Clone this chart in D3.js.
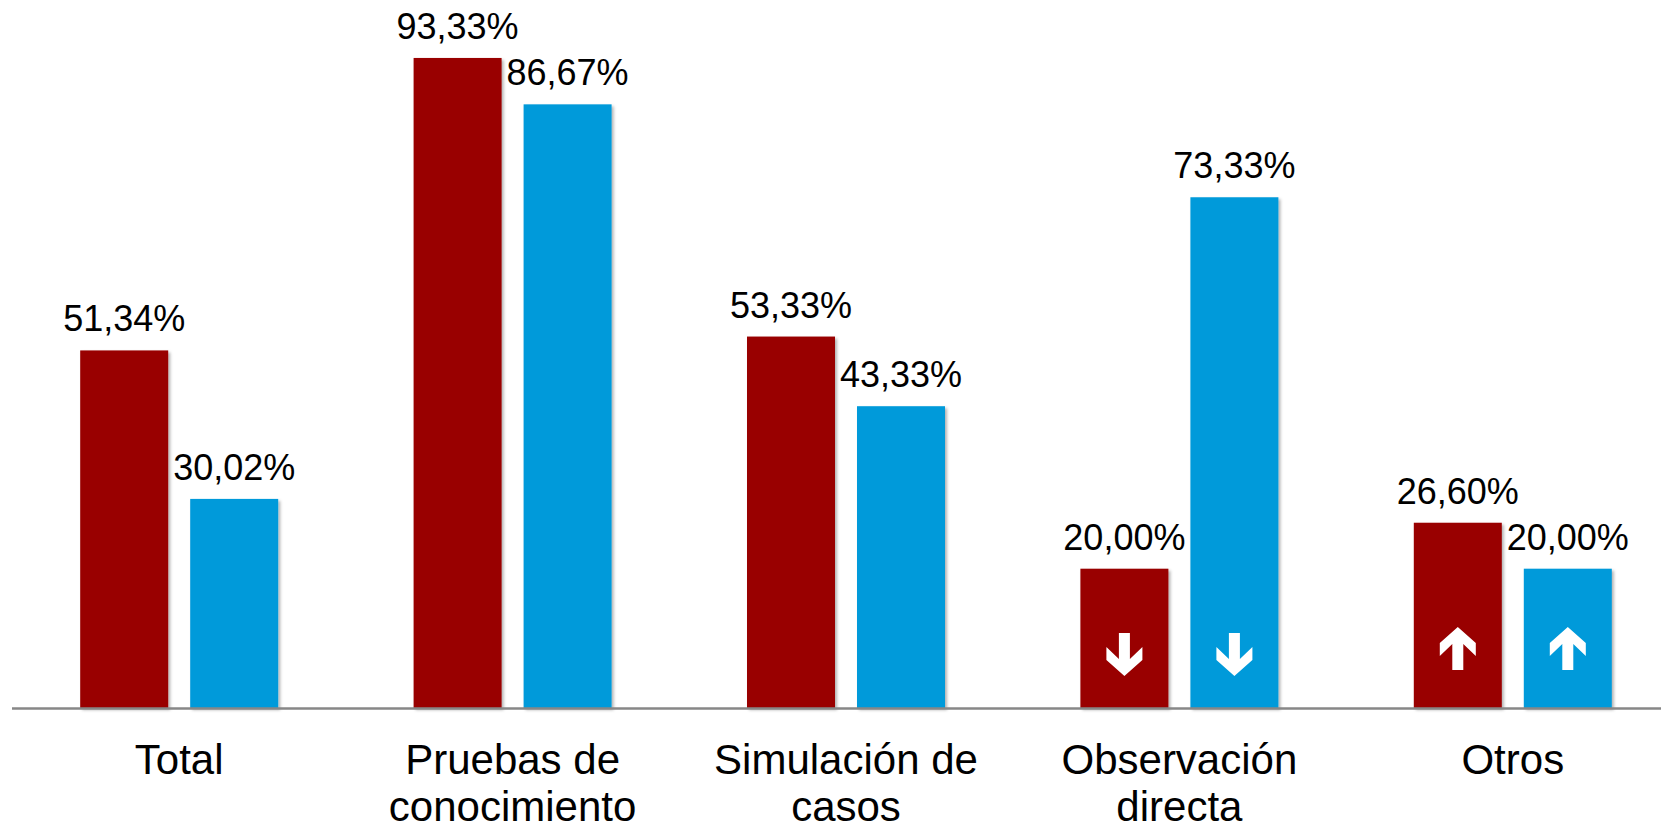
<!DOCTYPE html>
<html>
<head>
<meta charset="utf-8">
<script src="https://cdn.jsdelivr.net/npm/d3@7"></script>
<style>
  body { margin: 0; background: #fff; overflow: hidden; }
  text { font-family: "Liberation Sans", Arial, sans-serif; }
</style>
</head>
<body>
<div id="chart"></div>
<script>
// data
let categories = ["Total", "Pruebas de conocimiento", "Simulación de casos", "Observación directa", "Otros"];
let categoryLines = [["Total"], ["Pruebas de", "conocimiento"], ["Simulación de", "casos"], ["Observación", "directa"], ["Otros"]];
let seriesNames = ["Serie 1", "Serie 2"];
let serie1 = [51.34, 93.33, 53.33, 20.00, 26.60];
let serie2 = [30.02, 86.67, 43.33, 73.33, 20.00];
let arrows = [
  {cat: "Observación directa", serie: "Serie 1", dir: "down"},
  {cat: "Observación directa", serie: "Serie 2", dir: "down"},
  {cat: "Otros", serie: "Serie 1", dir: "up"},
  {cat: "Otros", serie: "Serie 2", dir: "up"}
];
let colors = ["#990000", "#009ADA"];

let svgwidth = 1661, svgheight = 827;
let svg = d3.select("#chart").append("svg")
  .attr("width", svgwidth)
  .attr("height", svgheight);

// soft shadow under bars
let defs = svg.append("defs");
defs.append("filter").attr("id", "shadow")
  .attr("x", "-10%").attr("y", "-10%").attr("width", "130%").attr("height", "130%")
  .append("feDropShadow")
  .attr("dx", 2).attr("dy", 2).attr("stdDeviation", 1.5)
  .attr("flood-color", "#000").attr("flood-opacity", 0.3);

let baseY = 708;
let y = d3.scaleLinear().domain([0, 100]).range([baseY, 11.5]);
let x0 = d3.scaleBand().domain(categories).range([12.5, 1679.5]).padding(0);
let groupW = 198;
let x1 = d3.scaleBand().domain(seriesNames).range([0, groupW]).paddingInner(0.2);
let color = d3.scaleOrdinal().domain(seriesNames).range(colors);

let rows = [];
categories.forEach((c, i) => {
  rows.push({cat: c, serie: seriesNames[0], value: serie1[i]});
  rows.push({cat: c, serie: seriesNames[1], value: serie2[i]});
});

function barX(d) {
  return x0(d.cat) + (x0.bandwidth() - groupW) / 2 + x1(d.serie);
}

// bars
svg.append("g").selectAll("rect")
  .data(rows)
  .enter()
  .append("rect")
  .attr("x", d => barX(d))
  .attr("y", d => y(d.value))
  .attr("width", x1.bandwidth())
  .attr("height", d => baseY - y(d.value))
  .attr("fill", d => color(d.serie))
  .attr("filter", "url(#shadow)");

// baseline
svg.append("line")
  .attr("x1", 12).attr("x2", svgwidth)
  .attr("y1", baseY + 0.5).attr("y2", baseY + 0.5)
  .attr("stroke", "#878787")
  .attr("stroke-width", 2.5);

// value labels
svg.append("g").selectAll("text")
  .data(rows)
  .enter()
  .append("text")
  .attr("x", d => barX(d) + x1.bandwidth() / 2)
  .attr("y", d => y(d.value) - 19)
  .attr("text-anchor", "middle")
  .attr("font-size", "36px")
  .attr("fill", "#000")
  .text(d => d.value.toFixed(2).replace(".", ",") + "%");

// category labels
let catG = svg.append("g").selectAll("text")
  .data(categories)
  .enter()
  .append("text")
  .attr("text-anchor", "middle")
  .attr("font-size", "42px")
  .attr("fill", "#000");
catG.selectAll("tspan")
  .data((d, i) => categoryLines[i].map(t => ({t: t, c: d})))
  .enter()
  .append("tspan")
  .attr("x", d => x0(d.c) + x0.bandwidth() / 2)
  .attr("y", (d, j) => 774 + j * 47)
  .text(d => d.t);

// white arrows inside the bars
let downArrow = "M-5.5,0 L5.5,0 L5.5,26 L18,14 L18,27 L0,43 L-18,27 L-18,14 L-5.5,26 Z";
let upArrow = "M-5.5,43 L5.5,43 L5.5,17 L18,29 L18,16 L0,0 L-18,16 L-18,29 L-5.5,17 Z";
svg.append("g").selectAll("path")
  .data(arrows)
  .enter()
  .append("path")
  .attr("d", d => d.dir === "down" ? downArrow : upArrow)
  .attr("transform", d => {
    let cx = barX(d) + x1.bandwidth() / 2;
    let top = d.dir === "down" ? baseY - 75 : baseY - 81;
    return `translate(${cx},${top})`;
  })
  .attr("fill", "#fff");
</script>
</body>
</html>
